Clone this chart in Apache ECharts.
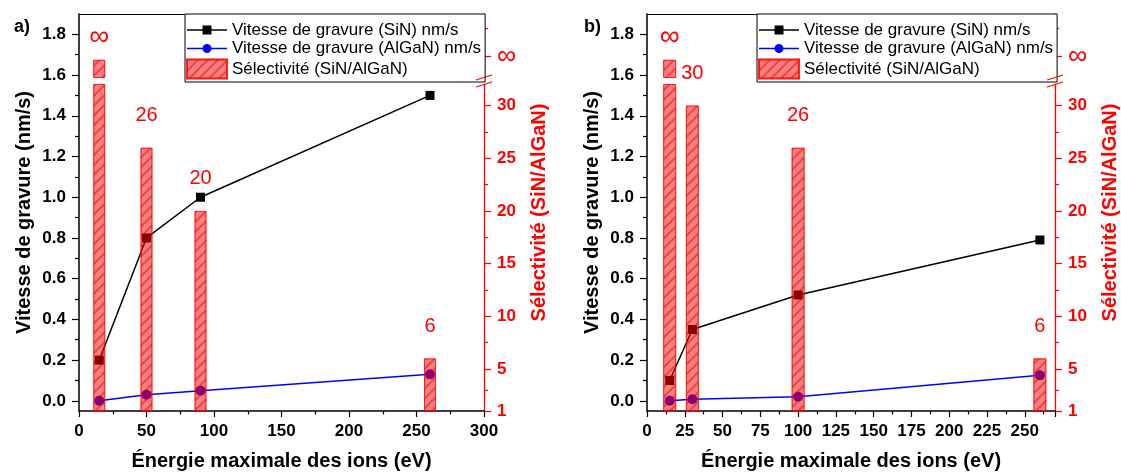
<!DOCTYPE html>
<html>
<head>
<meta charset="utf-8">
<script src="https://cdn.jsdelivr.net/npm/echarts@6/dist/echarts.min.js"></script>
<style>html,body{margin:0;padding:0;background:#fff}#c{width:1121px;height:475px}</style>
</head>
<body>
<div id="c"></div>
<script>
// ---- Data (panel a) ----
const energyA = [15, 50, 90, 260];
const sinRateA = [0.2, 0.8, 1.0, 1.5];
const alganRateA = [0.0, 0.03, 0.05, 0.13];
const selectivityA = [Infinity, 26, 20, 6];

// ---- Data (panel b) ----
const energyB = [15, 30, 100, 260];
const sinRateB = [0.1, 0.35, 0.52, 0.79];
const alganRateB = [0.0, 0.008, 0.02, 0.125];
const selectivityB = [Infinity, 30, 26, 6];

// ---- Tick labels ----
const rateTicks = [0, 0.2, 0.4, 0.6, 0.8, 1.0, 1.2, 1.4, 1.6, 1.8];
const rateMinorTicks = [0.1, 0.3, 0.5, 0.7, 0.9, 1.1, 1.3, 1.5, 1.7];
const selTicks = [1, 5, 10, 15, 20, 25, 30];
const selMinorTicks = [3, 7.5, 12.5, 17.5, 22.5, 27.5];

// ---- Broken selectivity axis: lower segment [1, LOWER_MAX], upper segment [UPPER_MIN, UPPER_MAX] ----
const LOWER_MAX = 32.0;
const UPPER_MIN = 32.67, UPPER_MAX = 38.7;
const INF_TICK = 34.7;       // position of the "∞" tick on the upper segment
const INF_BAR_TOP = 34.35;   // height drawn for infinite bars
const UPPER_MINOR = 37.3;

const SIN_NAME = 'Vitesse de gravure (SiN) nm/s';
const ALGAN_NAME = 'Vitesse de gravure (AlGaN) nm/s';
const SEL_NAME = 'Sélectivité (SiN/AlGaN)';
const X_TITLE = 'Énergie maximale des ions (eV)';
const Y_TITLE = 'Vitesse de gravure (nm/s)';
const Y2_TITLE = 'Sélectivité (SiN/AlGaN)';

const FONT = '"Liberation Sans", Arial, sans-serif';
const RED = '#ff0000';

const panels = [
  {energy: energyA, sin: sinRateA, algan: alganRateA, sel: selectivityA, xMax: 300, xInterval: 50,
   gridLeft: 79, gridRight: 637, legendLeft: 185, tag: 'a)', tagLeft: 14, barWidth: 12},
  {energy: energyB, sin: sinRateB, algan: alganRateB, sel: selectivityB, xMax: 270, xInterval: 25,
   gridLeft: 647, gridRight: 66, legendLeft: 757, tag: 'b)', tagLeft: 584, barWidth: 13}
];

const barStyle = {
  color: 'rgba(255,0,0,0.5)',
  borderColor: 'rgba(255,0,0,0.6)',
  borderWidth: 1,
  decal: {symbol: 'rect', symbolSize: 1, dashArrayX: [1, 0], dashArrayY: [1.3, 4.4],
          rotation: -Math.PI / 4, color: 'rgba(200,0,0,0.45)'}
};
const hiddenAxis = {show: false, axisLine: {show: false, onZero: false}, axisTick: {show: false},
                    axisLabel: {show: false}, splitLine: {show: false}};
const noLine = {show: false, onZero: false};

const grids = [], xAxes = [], yAxes = [], series = [], legends = [], titles = [];
const GRID_TOP = 14, GRID_BOTTOM = 64, H = 475;
const UPPER_BOTTOM_PX = 77.5, LOWER_TOP_PX = 84.5;

panels.forEach((p, i) => {
  const G = 3 * i, X = 4 * i, Y = 7 * i;
  const base = {left: p.gridLeft, right: p.gridRight, containLabel: false, outerBoundsMode: 'none', show: false};
  grids.push(Object.assign({top: GRID_TOP, bottom: GRID_BOTTOM}, base));                 // main
  grids.push(Object.assign({top: GRID_TOP, bottom: H - UPPER_BOTTOM_PX}, base));         // upper right segment
  grids.push(Object.assign({top: LOWER_TOP_PX, bottom: GRID_BOTTOM}, base));             // lower right segment

  xAxes.push({
    gridIndex: G, type: 'value', min: 0, max: p.xMax, interval: p.xInterval, position: 'bottom',
    axisLine: {show: true, onZero: false, lineStyle: {color: '#000', width: 1.5}},
    axisTick: {show: true, inside: false, length: 6, lineStyle: {color: '#000', width: 1.2}},
    minorTick: {show: true, splitNumber: 2, length: 3.5, lineStyle: {color: '#000', width: 1.2}},
    splitLine: {show: false}, minorSplitLine: {show: false},
    axisLabel: {fontFamily: FONT, fontSize: 17, fontWeight: 'bold', color: '#000', margin: 12,
                showMaxLabel: i === 0, showMinLabel: true},
    name: X_TITLE, nameLocation: 'middle', nameGap: 40, nameMoveOverlap: false,
    nameTextStyle: {fontFamily: FONT, fontSize: 20, fontWeight: 'bold', color: '#000'}
  });
  xAxes.push({
    gridIndex: G, type: 'value', min: 0, max: p.xMax, position: 'top',
    axisLine: {show: true, onZero: false, lineStyle: {color: '#000', width: 1}},
    axisTick: {show: false}, axisLabel: {show: false}, splitLine: {show: false}
  });
  xAxes.push(Object.assign({gridIndex: G + 1, type: 'value', min: 0, max: p.xMax, position: 'bottom'}, hiddenAxis));
  xAxes.push(Object.assign({gridIndex: G + 2, type: 'value', min: 0, max: p.xMax, position: 'bottom'}, hiddenAxis));

  // Y+0 left major
  yAxes.push({
    gridIndex: G, type: 'value', position: 'left', min: -0.05, max: 1.9,
    axisLine: {show: true, onZero: false, lineStyle: {color: '#000', width: 1.5}},
    axisTick: {show: true, inside: false, length: 7, customValues: rateTicks, lineStyle: {color: '#000', width: 1.2}},
    axisLabel: {customValues: rateTicks, formatter: v => Number(v).toFixed(1), fontFamily: FONT,
                fontSize: 17, fontWeight: 'bold', color: '#000', margin: 13},
    splitLine: {show: false},
    name: Y_TITLE, nameLocation: 'middle', nameGap: 45, nameMoveOverlap: false,
    nameTextStyle: {fontFamily: FONT, fontSize: 20, fontWeight: 'bold', color: '#000'}
  });
  // Y+1 left minor
  yAxes.push({
    gridIndex: G, type: 'value', position: 'left', min: -0.05, max: 1.9,
    axisLine: noLine, axisLabel: {show: false}, splitLine: {show: false},
    axisTick: {show: true, inside: false, length: 4, customValues: rateMinorTicks, lineStyle: {color: '#000', width: 1.2}}
  });
  // Y+2 right title holder (full height)
  yAxes.push({
    gridIndex: G, type: 'value', position: 'right', min: 0, max: 1,
    axisLine: noLine, axisTick: {show: false}, axisLabel: {show: false}, splitLine: {show: false},
    name: Y2_TITLE, nameLocation: 'middle', nameGap: 45, nameMoveOverlap: false,
    nameTextStyle: {fontFamily: FONT, fontSize: 20, fontWeight: 'bold', color: RED}
  });
  // Y+3 upper segment major
  yAxes.push({
    gridIndex: G + 1, type: 'value', position: 'right', min: UPPER_MIN, max: UPPER_MAX,
    axisLine: {show: true, onZero: false, lineStyle: {color: RED, width: 1.3}},
    axisTick: {show: true, inside: false, length: 7, customValues: [INF_TICK], lineStyle: {color: RED, width: 1.2}},
    axisLabel: {customValues: [INF_TICK], formatter: () => '∞', fontFamily: FONT, fontSize: 27,
                color: RED, margin: 13},
    splitLine: {show: false}
  });
  // Y+4 upper segment minor
  yAxes.push({
    gridIndex: G + 1, type: 'value', position: 'right', min: UPPER_MIN, max: UPPER_MAX,
    axisLine: noLine, axisLabel: {show: false}, splitLine: {show: false},
    axisTick: {show: true, inside: false, length: 4, customValues: [UPPER_MINOR], lineStyle: {color: RED, width: 1.2}}
  });
  // Y+5 lower segment major
  yAxes.push({
    gridIndex: G + 2, type: 'value', position: 'right', min: 1, max: LOWER_MAX,
    axisLine: {show: true, onZero: false, lineStyle: {color: RED, width: 1.3}},
    axisTick: {show: true, inside: false, length: 7, customValues: selTicks, lineStyle: {color: RED, width: 1.2}},
    axisLabel: {customValues: selTicks, fontFamily: FONT, fontSize: 17, fontWeight: 'bold', color: RED, margin: 13},
    splitLine: {show: false}
  });
  // Y+6 lower segment minor
  yAxes.push({
    gridIndex: G + 2, type: 'value', position: 'right', min: 1, max: LOWER_MAX,
    axisLine: noLine, axisLabel: {show: false}, splitLine: {show: false},
    axisTick: {show: true, inside: false, length: 4, customValues: selMinorTicks, lineStyle: {color: RED, width: 1.2}}
  });

  series.push({
    name: SIN_NAME, type: 'line', xAxisIndex: X, yAxisIndex: Y, z: 2,
    data: p.energy.map((e, k) => [e, p.sin[k]]),
    symbol: 'rect', symbolSize: 9, color: '#000',
    lineStyle: {color: '#000', width: 1.5}, itemStyle: {color: '#000'}
  });
  series.push({
    name: ALGAN_NAME, type: 'line', xAxisIndex: X, yAxisIndex: Y, z: 2,
    data: p.energy.map((e, k) => [e, p.algan[k]]),
    symbol: 'circle', symbolSize: 10, color: '#0000ff',
    lineStyle: {color: '#0000ff', width: 1.5}, itemStyle: {color: '#0000ff'}
  });
  const sel = p.sel;
  // lower segment bars (infinite bar is cut at the segment top)
  series.push({
    name: SEL_NAME, type: 'bar', xAxisIndex: X + 3, yAxisIndex: Y + 5, z: 3,
    barWidth: p.barWidth, clip: true,
    data: p.energy.map((e, k) => [e, isFinite(sel[k]) ? sel[k] : INF_BAR_TOP]),
    itemStyle: barStyle,
    label: {show: true, position: 'top', distance: 22, color: RED, fontSize: 20, fontFamily: FONT,
            formatter: prm => isFinite(sel[prm.dataIndex]) ? String(sel[prm.dataIndex]) : ''}
  });
  // upper segment: only infinite bars reach it
  series.push({
    name: 'inf' + i, type: 'bar', xAxisIndex: X + 2, yAxisIndex: Y + 3, z: 3,
    barWidth: p.barWidth, clip: true,
    data: p.energy.map((e, k) => [e, isFinite(sel[k]) ? '-' : INF_BAR_TOP]),
    itemStyle: barStyle,
    label: {show: true, position: 'top', distance: 9, color: RED, fontSize: 28, fontFamily: FONT,
            formatter: () => '∞'}
  });

  legends.push({
    orient: 'vertical', left: p.legendLeft, top: GRID_TOP, padding: [7.5, 4, 2.5, 1],
    itemWidth: 40, itemHeight: 19, itemGap: 1.5, selectedMode: false, z: 10,
    borderColor: '#000', borderWidth: 1, borderRadius: 0, backgroundColor: '#fff',
    textStyle: {fontFamily: FONT, fontSize: 17, color: '#000', lineHeight: 17},
    data: [
      {name: SIN_NAME, icon: 'path://M0,3.75h40v1.5h-40z M15.5,0h9v9h-9z', itemStyle: {borderWidth: 0}},
      {name: ALGAN_NAME, icon: 'path://M0,3.75h40v1.5h-40z M15.5,4.5a4.5,4.5 0 1,1 9,0a4.5,4.5 0 1,1 -9,0z', itemStyle: {borderWidth: 0}},
      {name: SEL_NAME, icon: 'rect'}
    ]
  });
  titles.push({text: p.tag, left: p.tagLeft, top: 18, padding: 0,
               textStyle: {fontFamily: FONT, fontSize: 18, fontWeight: 'bold', color: '#000'}});
});

const chart = echarts.init(document.getElementById('c'), null, {renderer: 'canvas'});
chart.setOption({
  animation: false,
  backgroundColor: '#fff',
  title: titles,
  grid: grids,
  xAxis: xAxes,
  yAxis: yAxes,
  legend: legends,
  series: series
});

// axis-break marks at the ends of the two right-axis segments
const g = [];
panels.forEach((p, i) => {
  const x = chart.convertToPixel({xAxisIndex: 4 * i}, p.xMax);
  const yUp = chart.convertToPixel({yAxisIndex: 7 * i + 3}, UPPER_MIN);
  const yDn = chart.convertToPixel({yAxisIndex: 7 * i + 5}, LOWER_MAX);
  [yUp, yDn].forEach(y => g.push({type: 'line', silent: true, z: 101,
    shape: {x1: x - 8, y1: y + 2.5, x2: x + 8, y2: y - 2.5}, style: {stroke: RED, lineWidth: 1.2}}));
});
chart.setOption({graphic: g});
</script>
</body>
</html>
